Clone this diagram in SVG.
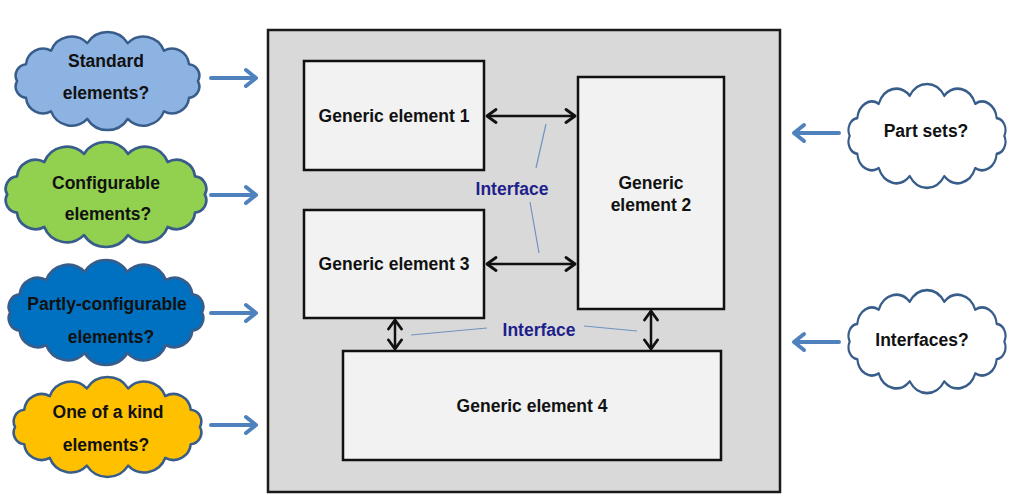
<svg xmlns="http://www.w3.org/2000/svg" width="1023" height="502" viewBox="0 0 1023 502">
<style>
.bg{fill:#ffffff}
.outer{fill:#d9d9d9;stroke:#1a1a1a;stroke-width:2.5}
.box{fill:#f2f2f2;stroke:#111;stroke-width:2.5}
.t{font-family:"Liberation Sans",Arial,sans-serif;font-weight:bold;font-size:17.5px;fill:#111;text-anchor:middle}
.it{font-family:"Liberation Sans",Arial,sans-serif;font-weight:bold;font-size:17.5px;fill:#1f1f8c;text-anchor:middle}
.cloud{stroke:#385d8a;stroke-width:2.5;vector-effect:non-scaling-stroke;stroke-linejoin:round}
.blue{fill:none;stroke:#4f81bd;stroke-width:4;stroke-linecap:round;stroke-linejoin:round}
.dbl{fill:none;stroke:#111;stroke-width:2.5;marker-start:url(#ah);marker-end:url(#ah)}
.thin{stroke:#6f93c0;stroke-width:1.2}
</style>
<defs>
<path id="cloudp" d="M10,50 A11.2,11.2 0 0 1 18.9,33.5 A17,17 0 0 1 43.8,20.3 A22,22 0 0 1 79.9,12.9 A24,24 0 0 1 120.1,12.9 A22,22 0 0 1 156.2,20.3 A17,17 0 0 1 181.1,33.5 A11.2,11.2 0 0 1 190,50 A11.2,11.2 0 0 1 181.1,66.5 A17,17 0 0 1 156.2,79.7 A22,22 0 0 1 120.1,87.1 A24,24 0 0 1 79.9,87.1 A22,22 0 0 1 43.8,79.7 A17,17 0 0 1 18.9,66.5 A11.2,11.2 0 0 1 10,50 Z"/>
<marker id="ah" viewBox="0 0 14 16" refX="12" refY="8" markerWidth="14" markerHeight="16" markerUnits="userSpaceOnUse" orient="auto-start-reverse">
<path d="M3,1.5 L12,8 L3,14.5" fill="none" stroke="#111" stroke-width="2.8" stroke-linecap="round" stroke-linejoin="round"/>
</marker>
</defs>
<rect class="bg" x="0" y="0" width="1023" height="502"/>

<g id="container">
<rect class="outer" x="268" y="30" width="512" height="462"/>
</g>

<g id="ge1"><rect class="box" x="304" y="61" width="180" height="109"/><text class="t" x="394" y="122">Generic element 1</text></g>
<g id="ge2"><rect class="box" x="578" y="77" width="146" height="232"/><text class="t" x="651" y="189">Generic</text><text class="t" x="651" y="211">element 2</text></g>
<g id="ge3"><rect class="box" x="304" y="210" width="180" height="108"/><text class="t" x="394" y="270">Generic element 3</text></g>
<g id="ge4"><rect class="box" x="343" y="351" width="378" height="109"/><text class="t" x="532" y="412">Generic element 4</text></g>

<g id="connectors">
<line class="dbl" x1="487" y1="116" x2="575" y2="116"/>
<line class="dbl" x1="487" y1="264" x2="575" y2="264"/>
<line class="dbl" x1="395" y1="320" x2="395" y2="349"/>
<line class="dbl" x1="651" y1="311" x2="651" y2="349"/>
<line class="thin" x1="546" y1="124" x2="536" y2="168"/>
<line class="thin" x1="530" y1="202" x2="539" y2="253"/>
<line class="thin" x1="411" y1="335" x2="487" y2="328"/>
<line class="thin" x1="584" y1="326" x2="637" y2="331"/>
<path class="blue" d="M211,78 H256 M246,70 L256,78 L246,86"/>
<path class="blue" d="M211,195 H256 M246,187 L256,195 L246,203"/>
<path class="blue" d="M211,313 H256 M246,305 L256,313 L246,321"/>
<path class="blue" d="M211,425 H256 M246,417 L256,425 L246,433"/>
<path class="blue" d="M839,133 H794 M804,125 L794,133 L804,141"/>
<path class="blue" d="M839,342 H794 M804,334 L794,342 L804,350"/>
</g>

<g id="interface1"><text class="it" x="512" y="195">Interface</text></g>
<g id="interface2"><text class="it" x="539" y="336">Interface</text></g>

<g id="cloud-standard">
<use href="#cloudp" class="cloud" fill="#8db3e2" transform="translate(7,30) scale(1.005,1.021)"/>
<text class="t" x="106" y="67">Standard</text><text class="t" x="106" y="99">elements?</text>
</g>
<g id="cloud-configurable">
<use href="#cloudp" class="cloud" fill="#92d050" transform="translate(-3.8,139.8) scale(1.098,1.094)"/>
<text class="t" x="106" y="189">Configurable</text><text class="t" x="108" y="220">elements?</text>
</g>
<g id="cloud-partly">
<use href="#cloudp" class="cloud" fill="#0070c0" transform="translate(-0.5,257.8) scale(1.065,1.094)"/>
<text class="t" x="107" y="310">Partly-configurable</text><text class="t" x="111" y="343">elements?</text>
</g>
<g id="cloud-oneofakind">
<use href="#cloudp" class="cloud" fill="#ffc000" transform="translate(4.8,374.9) scale(1.027,1.042)"/>
<text class="t" x="108" y="418">One of a kind</text><text class="t" x="106" y="451">elements?</text>
</g>
<g id="cloud-partsets">
<use href="#cloudp" class="cloud" fill="#ffffff" transform="translate(841.1,81.8) scale(0.859,1.083)"/>
<text class="t" x="926" y="137">Part sets?</text>
</g>
<g id="cloud-interfaces">
<use href="#cloudp" class="cloud" fill="#ffffff" transform="translate(841.1,287.9) scale(0.859,1.073)"/>
<text class="t" x="922" y="346">Interfaces?</text>
</g>
</svg>
